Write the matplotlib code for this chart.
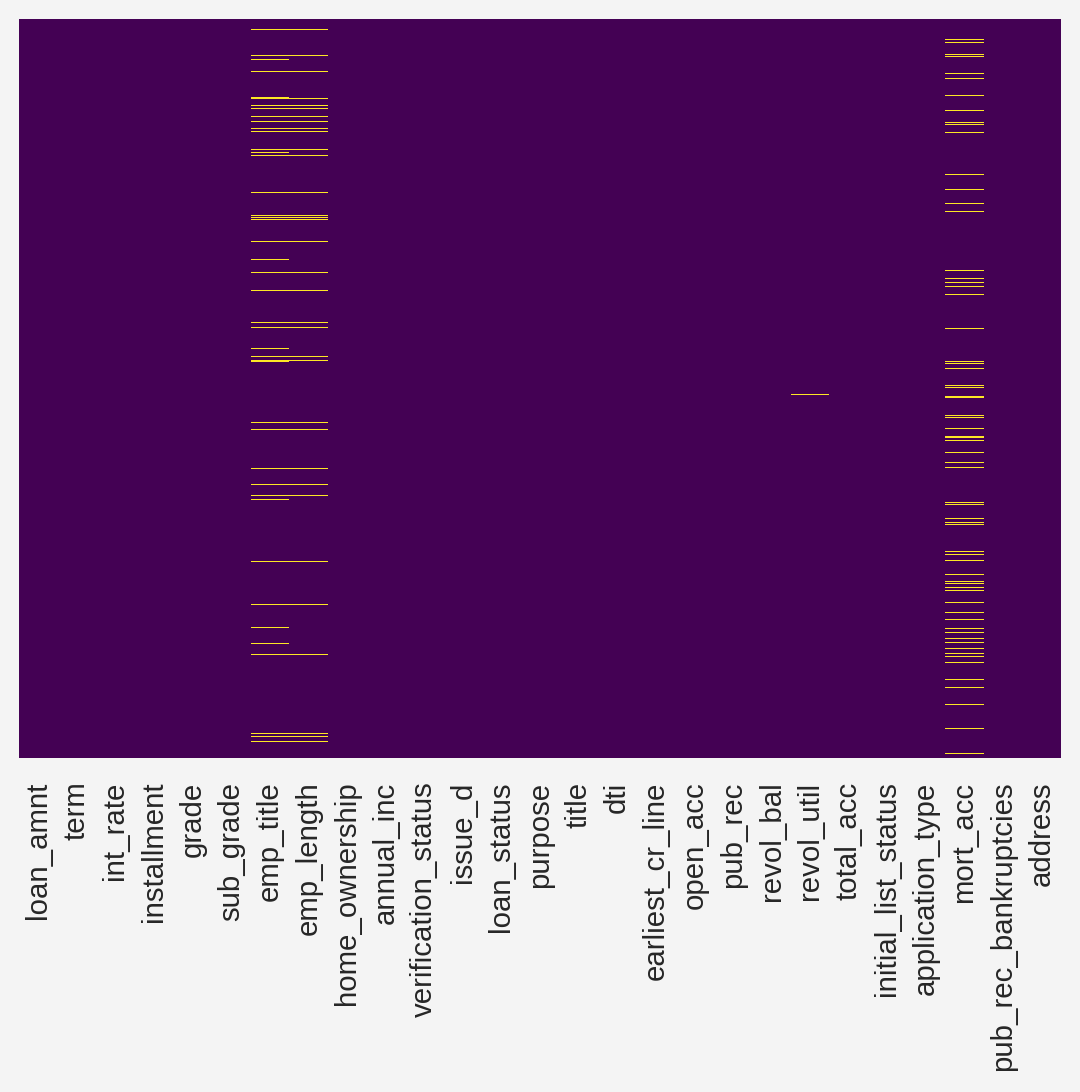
import matplotlib
matplotlib.use("Agg")
import numpy as np
import pandas as pd
import matplotlib.pyplot as plt
import seaborn as sns

# columns of the loan data frame
columns = [
    "loan_amnt", "term", "int_rate", "installment", "grade", "sub_grade",
    "emp_title", "emp_length", "home_ownership", "annual_inc",
    "verification_status", "issue_d", "loan_status", "purpose", "title",
    "dti", "earliest_cr_line", "open_acc", "pub_rec", "revol_bal",
    "revol_util", "total_acc", "initial_list_status", "application_type",
    "mort_acc", "pub_rec_bankruptcies", "address",
]

# rows shown (binned), and the binned rows that hold missing values
n_rows = 739

missing_both_emp = [
    10, 36, 52, 79, 86, 89, 97, 102, 109, 112, 130, 136, 173,
    196, 198, 200, 222, 253, 271, 303, 308, 337, 341,
    403, 410, 449, 465, 476, 542, 585, 635, 714, 717, 722,
]
missing_emp_title_only = [40, 78, 133, 240, 329, 342, 480, 608, 624]
missing_revol_util = [375]
missing_mort_acc = [
    20, 23, 35, 37, 54, 59, 76, 91, 103, 105, 113, 155, 170, 184, 192,
    251, 259, 263, 267, 275, 309, 342, 344, 349, 366, 368,
    377, 378, 396, 398, 409, 417, 418, 421, 433, 443, 448, 483, 485,
    499, 503, 505, 532, 535, 541, 555, 562, 564, 568, 571, 583, 593,
    600, 609, 613, 619, 623, 629, 634, 637, 643, 660, 668, 685, 709, 734,
]

is_null = pd.DataFrame(False, index=range(n_rows), columns=columns)
is_null.loc[missing_both_emp + missing_emp_title_only, "emp_title"] = True
is_null.loc[missing_both_emp, "emp_length"] = True
is_null.loc[missing_revol_util, "revol_util"] = True
is_null.loc[missing_mort_acc, "mort_acc"] = True

plt.rcParams["font.family"] = ["Liberation Sans", "DejaVu Sans"]

fig = plt.figure(figsize=(10.8, 10.92), dpi=100, facecolor="#f4f4f4")
ax = fig.add_axes([19 / 1080, 1 - 758 / 1092, 1042 / 1080, 739 / 1092])

sns.heatmap(is_null.astype(int), yticklabels=False, cbar=False,
            cmap="viridis", vmin=0, vmax=1, ax=ax)

ax.set_xticks(np.arange(len(columns)) + 0.5)
ax.set_xticklabels(columns, rotation=90, fontsize=21.2, color="#262626")
ax.tick_params(axis="x", length=0, pad=17)
ax.set_xlabel("")
ax.set_ylabel("")

fig.savefig("out.png", dpi=100, facecolor=fig.get_facecolor())
